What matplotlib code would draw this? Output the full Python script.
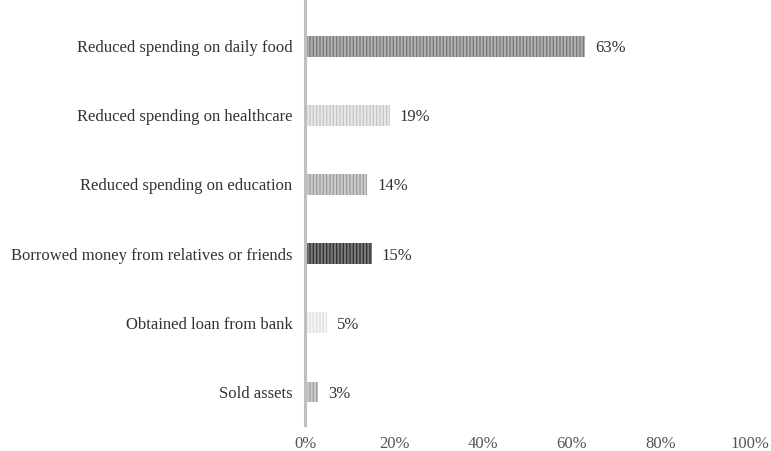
import matplotlib.pyplot as plt
from matplotlib.ticker import FuncFormatter

# coping strategies, top to bottom
categories = [
    "Reduced spending on daily food",
    "Reduced spending on healthcare",
    "Reduced spending on education",
    "Borrowed money from relatives or friends",
    "Obtained loan from bank",
    "Sold assets",
]
shares = [63, 19, 14, 15, 5, 3]
fill_colors = ["#777777", "#c4c4c4", "#999999", "#2e2e2e", "#e0e0e0", "#9e9e9e"]
stripe_colors = ["#b0b0b0", "#e8e8e8", "#cccccc", "#7a7a7a", "#f5f5f5", "#cdcdcd"]
x_ticks = [0, 20, 40, 60, 80, 100]

plt.rcParams['font.family'] = ['Liberation Serif', 'DejaVu Serif']
plt.rcParams['hatch.linewidth'] = 1.5

fig = plt.figure(figsize=(7.71, 4.51), dpi=100)
ax = fig.add_axes([0.3956, 0.0576, 0.5772, 0.9424])

pos = list(range(len(categories)))
for i, (v, fc, sc) in enumerate(zip(shares, fill_colors, stripe_colors)):
    ax.barh(i, v, height=0.3, color=fc, edgecolor=sc, linewidth=0, hatch='|||||')
    ax.text(v + 2.2, i, f"{v}%", va='center_baseline', ha='left', fontsize=12, color='#333333')

ax.set_xlim(0, 100)
ax.set_ylim(5.478, -0.667)
ax.set_yticks(pos)
ax.set_yticklabels(categories, fontsize=12, color='#333333')
ax.set_xticks(x_ticks)
ax.xaxis.set_major_formatter(FuncFormatter(lambda v, p: f"{int(v)}%"))
ax.tick_params(axis='x', length=0, pad=8, labelsize=12, labelcolor='#555555')
ax.tick_params(axis='y', length=0, pad=9)

for s in ['top', 'right', 'bottom']:
    ax.spines[s].set_visible(False)
ax.spines['left'].set_color('#bfbfbf')
ax.spines['left'].set_linewidth(2.2)

fig.savefig("out.png", dpi=100)
